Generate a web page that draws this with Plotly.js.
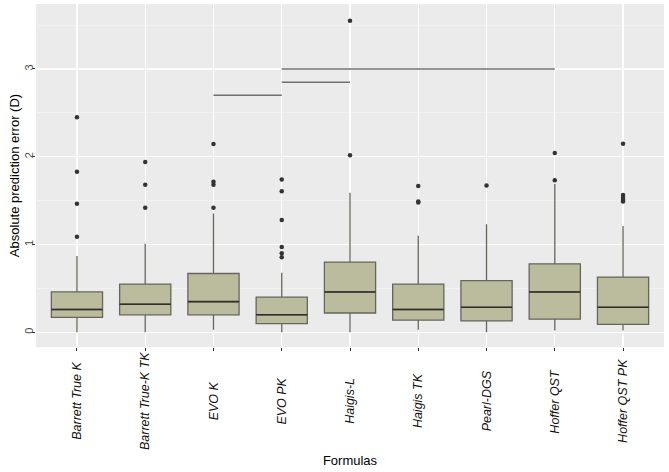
<!DOCTYPE html>
<html>
<head>
<meta charset="utf-8">
<script src="https://cdn.plot.ly/plotly-3.0.1.min.js"></script>
<style>html,body{margin:0;padding:0;background:#fff;}#chart{width:669px;height:472px;}</style>
</head>
<body>
<div id="chart"></div>
<script>
// ---- data ----
var categories = ["Barrett True K","Barrett True-K TK","EVO K","EVO PK","Haigis-L","Haigis TK","Pearl-DGS","Hoffer QST","Hoffer QST PK"];
var lowerWhisker = [0.00, 0.00, 0.03, 0.00, 0.00, 0.03, 0.00, 0.02, 0.02];
var q1Values     = [0.17, 0.20, 0.20, 0.10, 0.22, 0.14, 0.13, 0.15, 0.09];
var medianValues = [0.26, 0.32, 0.35, 0.20, 0.46, 0.26, 0.285, 0.46, 0.285];
var q3Values     = [0.46, 0.55, 0.67, 0.40, 0.80, 0.55, 0.59, 0.78, 0.63];
var upperWhisker = [0.87, 1.01, 1.355, 0.68, 1.59, 1.10, 1.23, 1.69, 1.21];
var outliers = [
  [2.45, 1.83, 1.465, 1.09],
  [1.94, 1.68, 1.42],
  [2.145, 1.715, 1.68, 1.42],
  [1.74, 1.606, 1.279, 0.972, 0.90, 0.854],
  [3.55, 2.016],
  [1.666, 1.49, 1.48],
  [1.674],
  [2.042, 1.731],
  [2.148, 1.564, 1.533, 1.507, 1.49]
];
// significance brackets: [from category, to category, level]
var brackets = [
  ["EVO K", "EVO PK", 2.70],
  ["EVO PK", "Haigis-L", 2.85],
  ["EVO PK", "Hoffer QST", 3.00]
];
var yTicks = [0, 1, 2, 3];

// ---- traces ----
var traces = [];
traces.push({
  type: 'box',
  x: categories,
  q1: q1Values, median: medianValues, q3: q3Values,
  lowerfence: lowerWhisker, upperfence: upperWhisker,
  boxpoints: false,
  fillcolor: '#BBBC9E',
  line: {color: '#66665c', width: 1.3},
  whiskerwidth: 0,
  hoverinfo: 'skip',
  showlegend: false
});
// darker median line, drawn as a flat box at the median values
traces.push({
  type: 'box',
  x: categories,
  q1: medianValues, median: medianValues, q3: medianValues,
  lowerfence: medianValues, upperfence: medianValues,
  boxpoints: false,
  fillcolor: 'rgba(0,0,0,0)',
  line: {color: '#2e2e2a', width: 1.6},
  whiskerwidth: 0,
  hoverinfo: 'skip',
  showlegend: false
});
var ox = [], oy = [];
outliers.forEach(function(arr, i){ arr.forEach(function(v){ ox.push(categories[i]); oy.push(v); }); });
traces.push({
  type: 'scatter', mode: 'markers', x: ox, y: oy,
  marker: {color: '#333333', size: 4.5},
  hoverinfo: 'skip', showlegend: false
});
brackets.forEach(function(b){
  traces.push({
    type: 'scatter', mode: 'lines', x: [b[0], b[1]], y: [b[2], b[2]],
    line: {color: '#707070', width: 1.5},
    hoverinfo: 'skip', showlegend: false
  });
});

// ---- x tick labels as centred rotated text ----
var annotations = categories.map(function(c){
  return {
    x: c, xref: 'x', y: -0.157, yref: 'paper',
    text: c, showarrow: false, textangle: -90,
    xanchor: 'center', yanchor: 'middle',
    font: {family: 'Liberation Sans, Arial, sans-serif', size: 12.5, color: '#111111', style: 'italic'}
  };
});

var layout = {
  width: 669, height: 472,
  margin: {l: 36, r: 5, t: 4, b: 125},
  paper_bgcolor: '#ffffff',
  plot_bgcolor: '#EBEBEB',
  font: {family: 'Liberation Sans, Arial, sans-serif', color: '#000'},
  boxmode: 'overlay',
  boxgap: 0.25, boxgroupgap: 0,
  showlegend: false,
  xaxis: {
    type: 'category',
    categoryorder: 'array', categoryarray: categories,
    range: [-0.6, 8.6],
    showgrid: true, gridcolor: '#ffffff', gridwidth: 1.4,
    zeroline: false, showline: false,
    ticks: 'outside', ticklen: 3, tickwidth: 1, tickcolor: '#333333',
    showticklabels: false,
    title: {text: 'Formulas', font: {size: 13, color: '#000'}, standoff: 105},
    automargin: false
  },
  yaxis: {
    range: [-0.167, 3.74],
    tickvals: yTicks, ticktext: yTicks.map(String),
    tickangle: -90,
    ticklabelstandoff: -5,
    tickfont: {size: 11, color: '#4D4D4D'},
    showgrid: true, gridcolor: '#ffffff', gridwidth: 1.4,
    minor: {dtick: 0.5, tick0: 0, showgrid: true, gridcolor: '#F4F4F4', gridwidth: 0.7, ticks: ''},
    zeroline: false, showline: false,
    ticks: 'outside', ticklen: 3, tickwidth: 1, tickcolor: '#333333',
    title: {text: 'Absolute prediction error (D)', font: {size: 13, color: '#000'}, standoff: 0},
    automargin: false
  },
  annotations: annotations
};

Plotly.newPlot('chart', traces, layout, {displayModeBar: false, staticPlot: true});
</script>
</body>
</html>
